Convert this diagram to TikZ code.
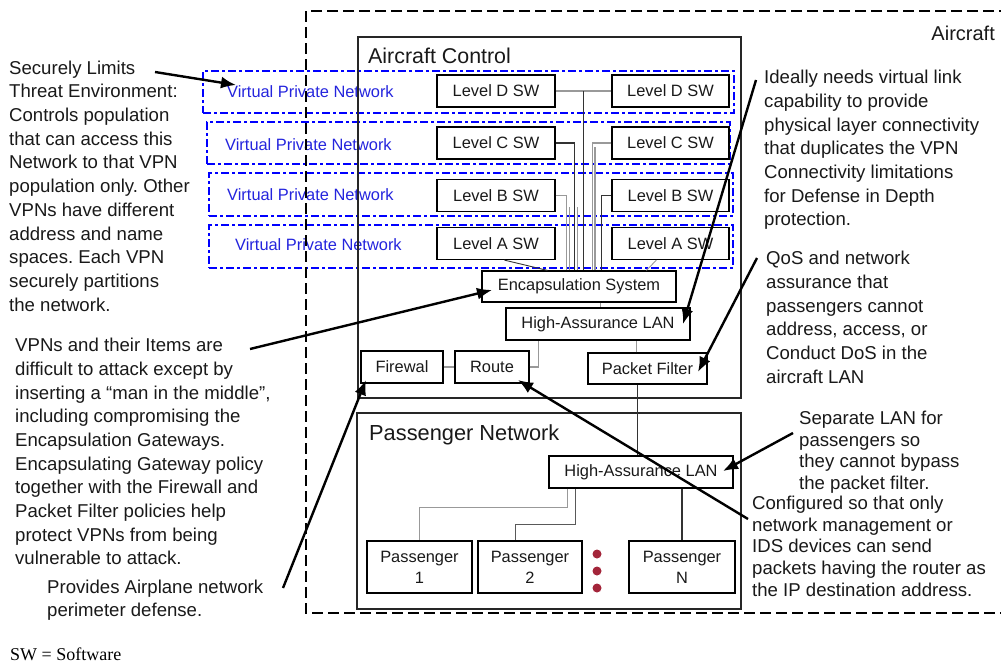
\documentclass[tikz,border=0pt]{standalone}
\usepackage{fontspec}
\setmainfont{Liberation Sans}
\newfontfamily\serifft{Liberation Serif}
\usetikzlibrary{arrows.meta,calc}
\definecolor{vpnblue}{HTML}{0000FF}
\definecolor{vpntext}{HTML}{2424DD}
\definecolor{dotred}{HTML}{A3253A}
\frenchspacing
\begin{document}
\begin{tikzpicture}[x=1pt,y=-1pt,
  box/.style={draw=black, line width=1.2pt, inner sep=0pt, align=center, font=\fontsize{16.4}{21}\selectfont, text=black!90},
  frame/.style={draw=black!85, line width=1.1pt, inner sep=0pt},
  vpnbox/.style={draw=vpnblue, line width=2.4pt, dash pattern=on 8pt off 3pt on 3pt off 3pt, inner sep=0pt},
  aircraft/.style={draw=black, line width=2.8pt, dash pattern=on 11pt off 5pt},
  vlabel/.style={anchor=west, inner sep=0pt, text=vpntext, font=\fontsize{16.4}{19}\selectfont},
  note/.style={anchor=north west, inner sep=0pt, align=left, text=black!90, font=\fontsize{18.6}{23.7}\selectfont},
  notetight/.style={note, font=\fontsize{18.6}{21.6}\selectfont},
  title/.style={inner sep=0pt, text=black!90},
  gw/.style={draw=black!40, line width=1.3pt},
  dw/.style={draw=black!80, line width=1.2pt},
  callout/.style={draw=black, line width=2.4pt, -{Latex[length=15pt,width=12pt]}},
  dot/.style={circle, fill=dotred, inner sep=0pt, minimum size=9pt},
]
\useasboundingbox (0,0) rectangle (1001,664);

% VPN dashed bands
\node[vpnbox, minimum width=531pt, minimum height=42pt] (vpn1) at (468.5,92) {};
\node[vpnbox, minimum width=523pt, minimum height=42pt] (vpn2) at (468.5,143) {};
\node[vpnbox, minimum width=524pt, minimum height=43pt] (vpn3) at (471,194.5) {};
\node[vpnbox, minimum width=524pt, minimum height=43pt] (vpn4) at (471,246.5) {};
\node[vlabel] (vl1) at (227,92) {Virtual Private Network};
\node[vlabel] (vl2) at (225,145) {Virtual Private Network};
\node[vlabel] (vl3) at (227,195) {Virtual Private Network};
\node[vlabel] (vl4) at (235,245) {Virtual Private Network};

% Aircraft boundary
\draw[aircraft] (1010,11) -- (306,11) -- (306,613) -- (1010,613);
\node[title, anchor=east, font=\fontsize{20}{24}\selectfont] (aclabel) at (995,33) {Aircraft};

% frames
\node[frame, minimum width=383pt, minimum height=361pt] (ctrl) at (549.5,217.5) {};
\node[title, anchor=west, font=\fontsize{21.4}{25}\selectfont] (ctrllabel) at (368,56) {Aircraft Control};
\node[frame, minimum width=384pt, minimum height=196pt] (pass) at (549,511) {};
\node[title, anchor=base west, font=\fontsize{21.8}{25}\selectfont] (passlabel) at (369,440) {Passenger Network};

% level boxes
\node[box, minimum width=118pt, minimum height=32pt] (ld) at (496,91) {Level D SW};
\node[box, minimum width=117pt, minimum height=32pt] (rd) at (670.5,91) {Level D SW};
\node[box, minimum width=118pt, minimum height=32pt] (lc) at (496,143) {Level C SW};
\node[box, minimum width=117pt, minimum height=32pt] (rc) at (670.5,143) {Level C SW};
\node[box, minimum width=118pt, minimum height=32pt] (lb) at (496,195.5) {Level B SW};
\node[box, minimum width=117pt, minimum height=32pt] (rb) at (670.5,195.5) {Level B SW};
\node[box, minimum width=118pt, minimum height=32pt] (la) at (496,243.5) {Level A SW};
\node[box, minimum width=117pt, minimum height=32pt] (ra) at (670.5,243.5) {Level A SW};

% control network boxes
\node[box, minimum width=194pt, minimum height=31pt] (enc) at (579,286.5) {Encapsulation System};
\node[box, minimum width=184pt, minimum height=32pt] (hal) at (598,324) {High-Assurance LAN};
\node[box, minimum width=82pt, minimum height=32pt] (fw) at (402,367) {Firewal};
\node[box, minimum width=74pt, minimum height=32pt] (rt) at (492,367) {Route};
\node[box, minimum width=119pt, minimum height=31pt] (pf) at (647.5,368.5) {Packet Filter};

% passenger network boxes
\node[box, minimum width=184pt, minimum height=32pt] (phal) at (641,472) {High-Assurance LAN};
\node[box, minimum width=105pt, minimum height=52pt] (p1) at (419.5,567) {Passenger\\1};
\node[box, minimum width=104pt, minimum height=52pt] (p2) at (530,567) {Passenger\\2};
\node[box, minimum width=106pt, minimum height=52pt] (pn) at (682,567) {Passenger\\N};
\node[dot] (dt1) at (597,554) {};
\node[dot] (dt2) at (597,571) {};
\node[dot] (dt3) at (597,588) {};

% wiring: levels to encapsulation
\draw[gw] (ld.east) -- (rd.west);
\coordinate (dmid) at ($(ld.east)!0.5!(rd.west)$);
\draw[dw] (dmid) -- (dmid |- enc.north);
\draw[dw] (lc.east) -| ([xshift=93pt]enc.north west);
\draw[gw] (rc.west) -| ([xshift=111pt]enc.north west);
\coordinate (rc2) at (595,147);
\draw[gw] (rc2) -- (rc2 |- enc.north);
\draw[gw] (lb.east) -| ([xshift=85pt]enc.north west);
\coordinate (lb2) at (569.5,207);
\draw[gw] (lb2) -- (lb2 |- enc.north);
\coordinate (lc2) at (577.5,207);
\draw[gw] (lc2) -- (lc2 |- enc.north);
\draw[dw] (rb.west) -| ([xshift=120pt]enc.north west);
\draw[dw, line width=0.9pt] ([xshift=68pt]la.south west) -- ([xshift=66pt]enc.north west);
\draw[gw, line width=0.9pt] ([xshift=45pt]ra.south west) -- ([xshift=165pt]enc.north west);

% wiring: control LAN
\coordinate (e1) at ([xshift=119pt]enc.south west);
\draw[gw] (e1) -- (e1 |- hal.north);
\draw[gw] (fw.east) -- (rt.west);
\draw[gw] (rt.east) -| ([xshift=33pt]hal.south west);
\coordinate (pft) at ([xshift=49pt]pf.north west);
\draw[gw] (pft) -- (pft |- hal.south);
\coordinate (pfb) at ([xshift=50pt]pf.south west);
\draw[dw] (pfb) -- (pfb |- phal.north);

% wiring: passenger LAN
\draw[gw] ([xshift=19pt]phal.south west) -- ++(0,19) -| (p1.north);
\draw[dw, draw=black!65] ([xshift=27pt]phal.south west) -- ++(0,36) -| ([xshift=38pt]p2.north west);
\draw[dw] (phal.south -| pn.north) -- (pn.north);

% notes
\node[note] (ntA) at (9,60.5) {Securely Limits\\Threat Environment:\\Controls population\\that can access this\\Network to that VPN\\population only. Other\\VPNs have different\\address and name\\spaces. Each VPN\\securely partitions\\the network.};
\node[note] (ntB) at (15,338) {VPNs and their Items are\\difficult to attack except by\\inserting a “man in the middle”,\\including compromising the\\Encapsulation Gateways.\\Encapsulating Gateway policy\\together with the Firewall and\\Packet Filter policies help\\protect VPNs from being\\vulnerable to attack.};
\node[note, font=\fontsize{18.6}{23}\selectfont] (ntC) at (47,580) {Provides Airplane network\\perimeter defense.};
\node[note] (ntD) at (764,70) {Ideally needs virtual link\\capability to provide\\physical layer connectivity\\that duplicates the VPN\\Connectivity limitations\\for Defense in Depth\\protection.};
\node[note] (ntE) at (766,251) {QoS and network\\assurance that\\passengers cannot\\address, access, or\\Conduct DoS in the\\aircraft LAN};
\node[notetight] (ntF) at (799,411) {Separate LAN for\\passengers so\\they cannot bypass\\the packet filter.};
\node[notetight] (ntG) at (752,496) {Configured so that only\\network management or\\IDS devices can send\\packets having the router as\\the IP destination address.};
\node[anchor=west, inner sep=0pt, font=\serifft\fontsize{18}{22}\selectfont] (swnote) at (10,654) {SW = Software};

% callout arrows
\coordinate (c1s) at (155,72);   \coordinate (c1e) at (236,85);
\coordinate (c2s) at (250,349);  \coordinate (c2e) at (492,290);
\coordinate (c3s) at (283,588);  \coordinate (c3e) at (366,380);
\coordinate (c4s) at (756,80);   \coordinate (c4e) at (683,324);
\coordinate (c5s) at (757,258);  \coordinate (c5e) at (698,372);
\coordinate (c6s) at (793,433);  \coordinate (c6e) at (723,471);
\coordinate (c7s) at (748,519);  \coordinate (c7e) at (518,380);
\draw[callout] (c1s) -- (c1e);
\draw[callout] (c2s) -- (c2e);
\draw[callout] (c3s) -- (c3e);
\draw[callout] (c4s) -- (c4e);
\draw[callout] (c5s) -- (c5e);
\draw[callout] (c6s) -- (c6e);
\draw[callout] (c7s) -- (c7e);
\end{tikzpicture}
\end{document}
